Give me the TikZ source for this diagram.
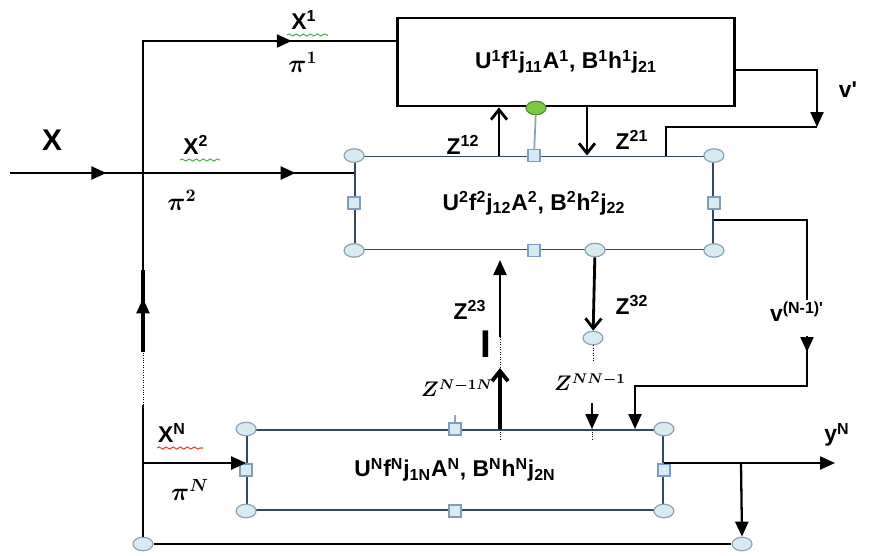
\documentclass[tikz,border=0pt]{standalone}
\usepackage{amsmath}
\usepackage{fontspec}
\setmainfont{Liberation Sans}
\usetikzlibrary{arrows.meta, calc, shapes.geometric, decorations.markings, decorations.pathmorphing}
\definecolor{sbedge}{HTML}{34495F}
\definecolor{sbfill}{HTML}{D7ECF2}
\definecolor{sbring}{HTML}{8EA4B6}
\definecolor{sbsq}{HTML}{7E9CBD}
\definecolor{sbgreen}{HTML}{7CC943}
\definecolor{sbwave}{HTML}{4CAF50}
\definecolor{sbred}{HTML}{E3402B}
\begin{document}
\begin{tikzpicture}[x=0.02cm, y=-0.02cm, font=\bfseries\fontsize{13}{15}\selectfont,
    wire/.style={line width=1.3pt},
    arr/.style={-{Triangle[length=3mm,width=2.6mm]}},
    barb/.style={-{Straight Barb[length=2mm,width=3.2mm]}},
    midtip/.style={postaction={decorate, decoration={markings,
        mark=at position #1 with {\arrow{Triangle[length=3mm,width=2.6mm]}}}}},
    hdl/.style={ellipse, draw=sbring, fill=sbfill, line width=0.7pt,
        minimum width=0.4cm, minimum height=0.27cm, inner sep=0pt},
    sqh/.style={rectangle, draw=sbsq, fill=sbfill, line width=0.7pt,
        minimum size=0.24cm, inner sep=0pt},
    wave/.style={decorate, decoration={snake, segment length=4pt, amplitude=0.6pt}, line width=0.6pt},
    pilab/.style={font=\boldmath\fontsize{14}{16}\selectfont},
    zmath/.style={font=\boldmath\fontsize{12}{14}\selectfont}]
  \useasboundingbox (0,0) rectangle (876,555);
  % blocks
  \node[draw, line width=1.6pt, minimum width=6.74cm, minimum height=1.76cm] (b1) at (566,62)
    {U\textsuperscript{1}f\textsuperscript{1}j\textsubscript{11}A\textsuperscript{1}, B\textsuperscript{1}h\textsuperscript{1}j\textsubscript{21}};
  \node[draw=sbedge, line width=1.1pt, minimum width=7.16cm, minimum height=1.86cm] (b2) at (534,203)
    {U\textsuperscript{2}f\textsuperscript{2}j\textsubscript{12}A\textsuperscript{2}, B\textsuperscript{2}h\textsuperscript{2}j\textsubscript{22}};
  \node[draw=sbedge, line width=1.1pt, minimum width=8.32cm, minimum height=1.6cm] (bN) at (455,470)
    {U\textsuperscript{N}f\textsuperscript{N}j\textsubscript{1N}A\textsuperscript{N}, B\textsuperscript{N}h\textsuperscript{N}j\textsubscript{2N}};
  \foreach \b in {b2, bN} {
    \foreach \a/\n in {north west/nw, north east/ne, south west/sw, south east/se}
      \node[hdl] (\b\n) at (\b.\a) {};
    \foreach \a/\n in {north/n, south/s, west/w, east/e}
      \node[sqh] (\b\n) at (\b.\a) {};
  }
  \node[hdl] (b2z) at (595,250) {};
  \node[hdl, fill=sbgreen, draw=sbgreen!70!black] (grn) at (536,108) {};
  \draw[sbring, line width=1pt] (grn) -- (b2n);
  \draw[sbring, line width=1pt] (bNn) -- ++(0,-14);

  % left feed
  \coordinate (src) at (10,173);
  \coordinate (fork) at (143,173);
  \coordinate (top) at (143,41);
  \coordinate (lp1) at (143,405);
  \coordinate (lp2) at (143,352);
  \coordinate (lp3) at (143,270);
  \coordinate (xn) at (143,463);
  \node[hdl] (hl) at (143,544) {};
  \node[hdl] (hr) at (742,544) {};
  \draw[line width=1pt] (hl) -- (lp1);
  \draw[densely dotted] (lp1) -- (lp2);
  \draw[line width=2.2pt] (lp2) -- (lp3);
  \draw[wire, midtip=0.095, midtip=0.815] (lp2) -- (top) -- (top -| b1.west);
  \draw[wire, midtip=0.28, midtip=0.83] (src) -- (fork -| b2.west);
  \draw[wire, arr] (xn) -- (xn -| bN.west);
  \draw[wire] (hl) -- (hr);

  % links between blocks
  \coordinate (c12) at (499,0);
  \coordinate (c21) at (587,0);
  \coordinate (c21b) at (666,0);
  \coordinate (vc) at (817,127);
  \draw[line width=1.6pt, barb] (b2.north -| c12) -- (b1.south -| c12);
  \draw[line width=1.6pt, barb] (b1.south -| c21) -- (b2.north -| c21);
  \draw[wire] (b2.north -| c21b) |- (vc);
  \draw[wire, arr] ($(b1.east)+(0,8)$) -| (vc);

  \coordinate (z23a) at (500,337);
  \coordinate (z23b) at (500,368);
  \coordinate (z23c) at (500,260);
  \draw[wire, arr] (z23a) -- (z23c);
  \draw[densely dotted] (z23a) -- (z23b);
  \draw[line width=2.2pt, barb] (bN.north -| z23a) -- (z23b);
  \draw[densely dotted] (bN.north -| z23a) -- ++(0,10);

  \node[hdl] (z32e) at (593,338) {};
  \coordinate (z32d) at (593,362);
  \draw[line width=1.6pt, barb] (b2z) -- (z32e);
  \draw[densely dotted] (z32e) -- (z32d);

  \coordinate (zn1) at (592,403);
  \draw[wire, arr] (zn1) -- (bN.north -| zn1);
  \draw[densely dotted] (bN.north -| zn1) -- ++(0,10);

  \coordinate (vn1) at (807,300);
  \coordinate (vn2) at (807,336);
  \coordinate (vn3) at (807,386);
  \coordinate (c35) at (635,0);
  \draw[wire] ($(b2.east)+(0,17)$) -| (vn1);
  \draw[wire, arr] (vn2) -- ++(0,16);
  \draw[wire, arr] ($(vn2)+(0,10)$) -- (vn3) -| (bN.north -| c35);

  \coordinate (ybr) at (741,463);
  \coordinate (yend) at (835,463);
  \draw[wire, arr] (bN.east |- ybr) -- (yend);
  \draw[wire, arr] (ybr) -- (hr.north);

  % labels
  \node[font=\bfseries\fontsize{17}{19}\selectfont] (lx) at (52,140) {X};
  \node (lx1) at (304,20) {X\textsuperscript{1}};
  \node[pilab] (lp1n) at (303,62) {$\pi^1$};
  \node (lx2) at (196,145) {X\textsuperscript{2}};
  \node[pilab] (lp2n) at (182,200) {$\pi^2$};
  \node (lxn) at (172,433) {X\textsuperscript{N}};
  \node[pilab] (lpnn) at (190,490) {$\pi^N$};
  \draw[sbwave, wave] (287,35) -- (328,35);
  \draw[sbwave, wave] (180,160) -- (220,160);
  \draw[sbred, wave] (157,448) -- (203,448);
  \node (lz12) at (463,145) {Z\textsuperscript{12}};
  \node (lz21) at (632,140) {Z\textsuperscript{21}};
  \node (lv1) at (848,90) {v\textquotesingle};
  \node (lz23) at (470,310) {Z\textsuperscript{23}};
  \node[font=\bfseries\fontsize{22}{24}\selectfont] (lbar) at (486,344) {I};
  \node (lz32) at (632,305) {Z\textsuperscript{32}};
  \node (lvn) at (797,312) {v\textsuperscript{(N-1)\textquotesingle}};
  \node[zmath] (lzn1) at (457,388) {$Z^{N-1N}$};
  \node[zmath] (lznn) at (590,382) {$Z^{NN-1}$};
  \node (lyn) at (837,435) {y\textsuperscript{N}};
\end{tikzpicture}
\end{document}
